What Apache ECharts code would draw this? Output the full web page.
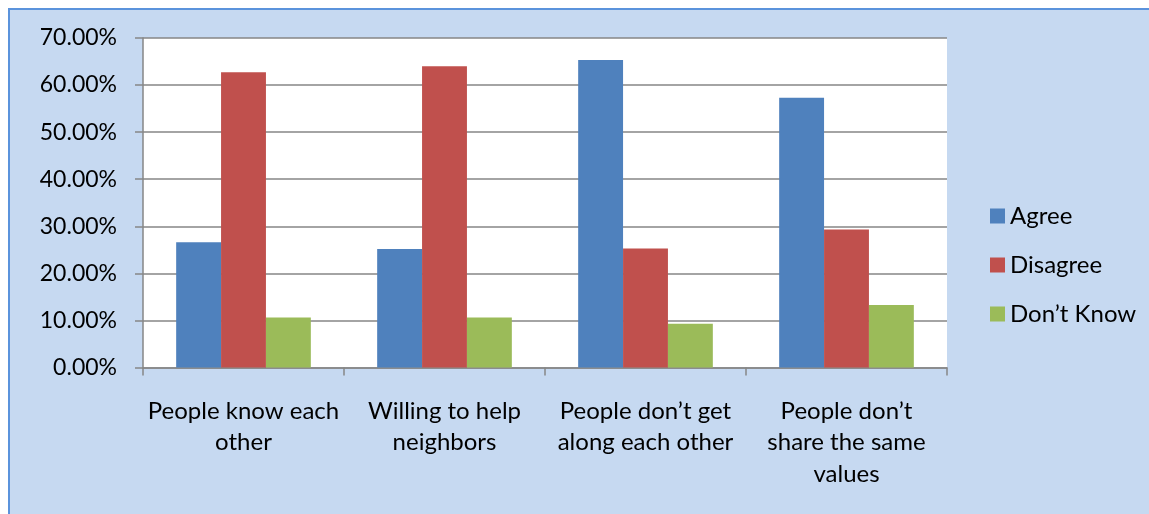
<!DOCTYPE html>
<html>
<head>
<meta charset="utf-8">
<script src="https://cdn.jsdelivr.net/npm/echarts@6/dist/echarts.min.js"></script>
<style>
  html, body { margin: 0; padding: 0; background: #ffffff; width: 1149px; height: 514px; overflow: hidden; }
  #box { position: absolute; left: 8px; top: 8px; width: 1160px; height: 520px; background: #c6d9f1; border-left: 2px solid #5b93dc; border-top: 2px solid #5b93dc; }
  #chart { position: absolute; left: 0; top: 0; width: 1149px; height: 514px; }
</style>
</head>
<body>
<div id="box"></div>
<div id="chart"></div>
<script>
const categories = [
  "People know each\nother",
  "Willing to help\nneighbors",
  "People don\u2019t get\nalong each other",
  "People don\u2019t\nshare the same\nvalues"
];
const seriesNames = ["Agree", "Disagree", "Don\u2019t Know"];
const agree = [26.6, 25.2, 65.3, 57.3];
const disagree = [62.7, 64.0, 25.3, 29.3];
const dontKnow = [10.6, 10.6, 9.3, 13.3];
const yTicks = { min: 0, max: 70, interval: 10 };

const colors = ["#4f81bd", "#c0504d", "#9bbb59"];
const FONT = "Lato";

const chart = echarts.init(document.getElementById('chart'), null, { renderer: 'canvas' });
chart.setOption({
  animation: false,
  backgroundColor: 'transparent',
  color: colors,
  grid: {
    left: 143, right: 202, top: 38, bottom: 146.5,
    show: true, backgroundColor: '#ffffff', borderWidth: 0
  },
  legend: {
    orient: 'vertical',
    left: 990, top: 204, padding: 0,
    icon: 'rect', itemWidth: 15, itemHeight: 15, itemGap: 25,
    textStyle: { fontFamily: FONT, fontSize: 24, color: '#000' },
    data: seriesNames
  },
  xAxis: {
    type: 'category',
    data: categories,
    boundaryGap: true,
    axisLine: { show: true, lineStyle: { color: '#868686', width: 1.5 } },
    axisTick: { show: true, length: 8, lineStyle: { color: '#868686', width: 1.5 } },
    axisLabel: { fontFamily: FONT, fontSize: 24, color: '#000', lineHeight: 31.5, margin: 28, interval: 0, align: 'center' },
    splitLine: { show: false }
  },
  yAxis: {
    type: 'value',
    min: yTicks.min, max: yTicks.max, interval: yTicks.interval,
    axisLine: { show: true, lineStyle: { color: '#868686', width: 1.5 } },
    axisTick: { show: true, length: 8, lineStyle: { color: '#868686', width: 1.5 } },
    axisLabel: { fontFamily: FONT, fontSize: 23, color: '#000', margin: 26, formatter: v => v.toFixed(2) + '%' },
    splitLine: { show: true, lineStyle: { color: '#868686', width: 1.5 } }
  },
  series: [
    { name: seriesNames[0], type: 'bar', data: agree, barGap: '0%', barCategoryGap: '33%' },
    { name: seriesNames[1], type: 'bar', data: disagree, barGap: '0%', barCategoryGap: '33%' },
    { name: seriesNames[2], type: 'bar', data: dontKnow, barGap: '0%', barCategoryGap: '33%' }
  ]
});
</script>
</body>
</html>
